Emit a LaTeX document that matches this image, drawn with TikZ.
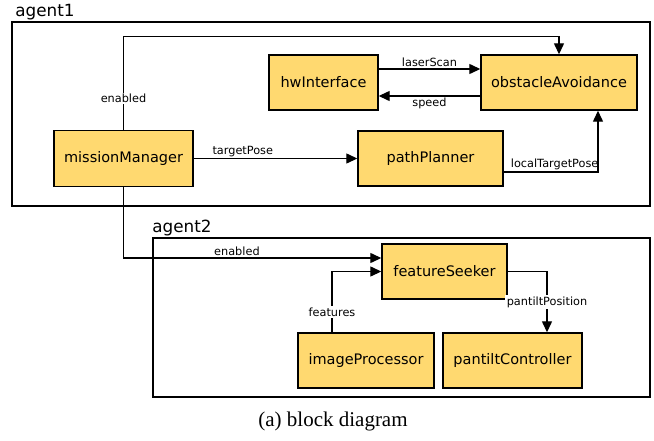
\documentclass[tikz,border=0pt]{standalone}
\usepackage{fontspec}
\setmainfont{Liberation Serif}
\newfontfamily\blockfont{DejaVu Sans}
\usepackage{tikz}
\usetikzlibrary{arrows.meta}

\definecolor{blockfill}{RGB}{255,217,112}

\begin{document}
\begin{tikzpicture}[x=1pt,y=-1pt,
    block/.style={draw=black,line width=1.4pt,fill=blockfill,
      minimum height=55pt,font=\blockfont\fontsize{14.5}{17}\selectfont},
    frame/.style={draw=black,line width=1.7pt,inner sep=0pt},
    link/.style={line width=1.3pt,-{Triangle[length=11pt,width=10pt]}},
    tag/.style={font=\blockfont\fontsize{11.3}{13}\selectfont,inner sep=1.5pt},
    agentname/.style={font=\blockfont\fontsize{16.8}{19}\selectfont,anchor=south west,inner sep=1pt}]
  \useasboundingbox (0,0) rectangle (654,440);

  % agent frames
  \node[frame,minimum width=638pt,minimum height=184pt] (agent1) at (331,114) {};
  \node[frame,minimum width=497pt,minimum height=159pt] (agent2) at (401.5,317.5) {};
  \node[agentname] (agent1name) at ([xshift=3pt]agent1.north west) {agent1};
  \node[agentname] (agent2name) at ([xshift=-1pt]agent2.north west) {agent2};

  % components
  \node[block,minimum width=139pt,minimum height=56pt] (mission) at (123.5,158.5) {missionManager};
  \node[block,minimum width=109pt] (hw) at (323.5,82.5) {hwInterface};
  \node[block,minimum width=156pt] (obstacle) at (559,82.5) {obstacleAvoidance};
  \node[block,minimum width=145pt] (path) at (430.5,158.5) {pathPlanner};
  \node[block,minimum width=125pt] (seeker) at (444.5,271.5) {featureSeeker};
  \node[block,minimum width=136pt] (image) at (366,360.5) {imageProcessor};
  \node[block,minimum width=139pt] (tilt) at (512.5,360.5) {pantiltController};

  % connections inside agent1
  \draw[link] (mission.north) |- ([yshift=18pt]obstacle.north)
    node[tag,pos=0.167,fill=white] {enabled} -- (obstacle.north);
  \draw[link] ([yshift=13.5pt]hw.east) -- ([yshift=13.5pt]obstacle.west)
    node[tag,midway,above] {laserScan};
  \draw[link] ([yshift=-13.5pt]obstacle.west) -- ([yshift=-13.5pt]hw.east)
    node[tag,midway,below] {speed};
  \draw[link] (mission.east) -- (path.west) node[tag,pos=0.3,above] {targetPose};
  \draw[link] ([yshift=-13.5pt]path.east) -| ([xshift=39pt]obstacle.south)
    node[tag,pos=0.27,above] {localTargetPose};

  % connections into agent2
  \draw[link] (mission.south) |- ([yshift=13.5pt]seeker.west)
    node[tag,pos=0.72,above] {enabled};
  \draw[link] ([xshift=-34pt]image.north) |- (seeker.west)
    node[tag,pos=0.164,fill=white] {features};
  \draw[link] (seeker.east) -| ([xshift=34.5pt]tilt.north)
    node[tag,pos=0.75,fill=white] {pantiltPosition};

  \node[font=\fontsize{21}{25}\selectfont] (caption) at (333,421) {(a) block diagram};
\end{tikzpicture}
\end{document}
